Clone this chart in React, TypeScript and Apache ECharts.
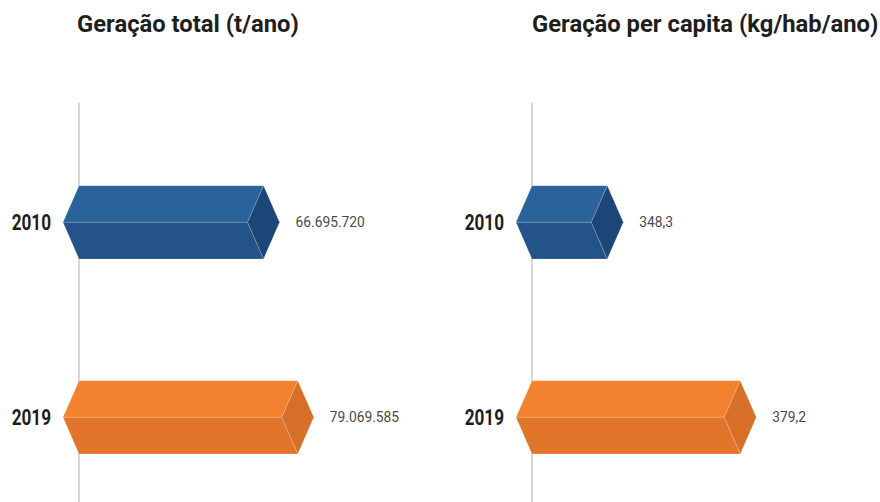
import React, { useEffect, useRef } from "react";
import * as echarts from "echarts";

const years = ["2010", "2019"];
const totalValues = [66695720, 79069585];
const perCapitaValues = [348.3, 379.2];
const titles = ["Geração total (t/ano)", "Geração per capita (kg/hab/ano)"];

const palettes = [
  { top: "#2a6399", bottom: "#245389", cap: "#1c4578" },
  { top: "#f3822f", bottom: "#e17529", cap: "#d76f29" },
];

function fmtTotal(v: number): string {
  const s = Math.round(v).toString();
  return s.replace(/\B(?=(\d{3})+(?!\d))/g, ".");
}
function fmtPerCapita(v: number): string {
  return v.toFixed(1).replace(".", ",");
}

function makeRender(xmin: number, fmt: (v: number) => string) {
  return (params: any, api: any) => {
    const v = api.value(0);
    const i = api.value(1);
    const p0 = api.coord([xmin, i]);
    const p1 = api.coord([v, i]);
    const band = api.size([0, 1])[1];
    const h = band * 0.188;
    const cap = 16;
    const x0 = p0[0];
    const xe = p1[0];
    const yc = p1[1];
    const pal = palettes[i % palettes.length];
    const edge = { stroke: "rgba(255,255,255,0.22)", lineWidth: 0.8 };
    return {
      type: "group",
      children: [
        {
          type: "polygon",
          shape: { points: [[x0 - cap, yc], [x0, yc - h], [xe, yc - h], [xe - cap, yc]] },
          style: { fill: pal.top, ...edge },
        },
        {
          type: "polygon",
          shape: { points: [[x0 - cap, yc], [xe - cap, yc], [xe, yc + h], [x0, yc + h]] },
          style: { fill: pal.bottom, ...edge },
        },
        {
          type: "polygon",
          shape: { points: [[xe, yc - h], [xe + cap, yc], [xe, yc + h], [xe - cap, yc]] },
          style: { fill: pal.cap, ...edge },
        },
        {
          type: "text",
          x: xe + cap + 16,
          y: yc,
          scaleX: 0.92,
          style: {
            text: fmt(v),
            fill: "#4a4a4a",
            font: "15px Roboto",
            textAlign: "left",
            textVerticalAlign: "middle",
          },
        },
        {
          type: "text",
          x: x0 - 28,
          y: yc,
          scaleX: 0.78,
          style: {
            text: years[i],
            fill: "#1e1e1e",
            font: "bold 22px Roboto",
            textAlign: "right",
            textVerticalAlign: "middle",
          },
        },
      ],
    };
  };
}

export default function App() {
  const ref = useRef<HTMLDivElement>(null);
  useEffect(() => {
    document.body.style.margin = "0";
    const chart = echarts.init(ref.current!, null, { renderer: "svg" });
    const leftX = 79;
    const rightX = 532;
    const leftW = 276.7;
    const rightW = 297.8;
    const barTop = 124.8;
    const barH = 390;
    const lineTop = 103;
    const leftMin = 0;
    const rightMin = 330.8;
    const titleStyle = {
      fontFamily: "Roboto",
      fontWeight: "bold" as const,
      fontSize: 23.8,
      lineHeight: 24,
      color: "#1e1e1e",
    };
    chart.setOption({
      animation: false,
      title: [
        { text: titles[0], left: leftX - 2, top: 12, padding: 0, textStyle: titleStyle },
        { text: titles[1], left: rightX, top: 12, padding: 0, textStyle: titleStyle },
      ],
      grid: [
        { left: leftX, top: barTop, width: leftW, height: barH, outerBoundsMode: "none" },
        { left: rightX, top: barTop, width: rightW, height: barH, outerBoundsMode: "none" },
        { left: leftX, top: lineTop, width: leftW, bottom: 0, outerBoundsMode: "none" },
        { left: rightX, top: lineTop, width: rightW, bottom: 0, outerBoundsMode: "none" },
      ],
      xAxis: [
        { gridIndex: 0, type: "value", min: leftMin, max: 1e8, show: false },
        { gridIndex: 1, type: "value", min: rightMin, max: 400, show: false },
        { gridIndex: 2, type: "value", min: 0, max: 1, show: false },
        { gridIndex: 3, type: "value", min: 0, max: 1, show: false },
      ],
      yAxis: [
        { gridIndex: 0, type: "category", data: years, inverse: true, show: false },
        { gridIndex: 1, type: "category", data: years, inverse: true, show: false },
        ...[2, 3].map((g) => ({
          gridIndex: g,
          type: "value",
          min: 0,
          max: 1,
          axisLine: { show: true, lineStyle: { color: "#cacaca", width: 1.5 } },
          axisLabel: { show: false },
          axisTick: { show: false },
          splitLine: { show: false },
        })),
      ],
      series: [
        {
          type: "custom",
          xAxisIndex: 0,
          yAxisIndex: 0,
          renderItem: makeRender(leftMin, fmtTotal),
          encode: { x: 0, y: 1 },
          data: totalValues.map((v, i) => [v, i]),
        },
        {
          type: "custom",
          xAxisIndex: 1,
          yAxisIndex: 1,
          renderItem: makeRender(rightMin, fmtPerCapita),
          encode: { x: 0, y: 1 },
          data: perCapitaValues.map((v, i) => [v, i]),
        },
      ],
    });
    return () => chart.dispose();
  }, []);
  return <div ref={ref} style={{ width: 880, height: 502 }} />;
}
